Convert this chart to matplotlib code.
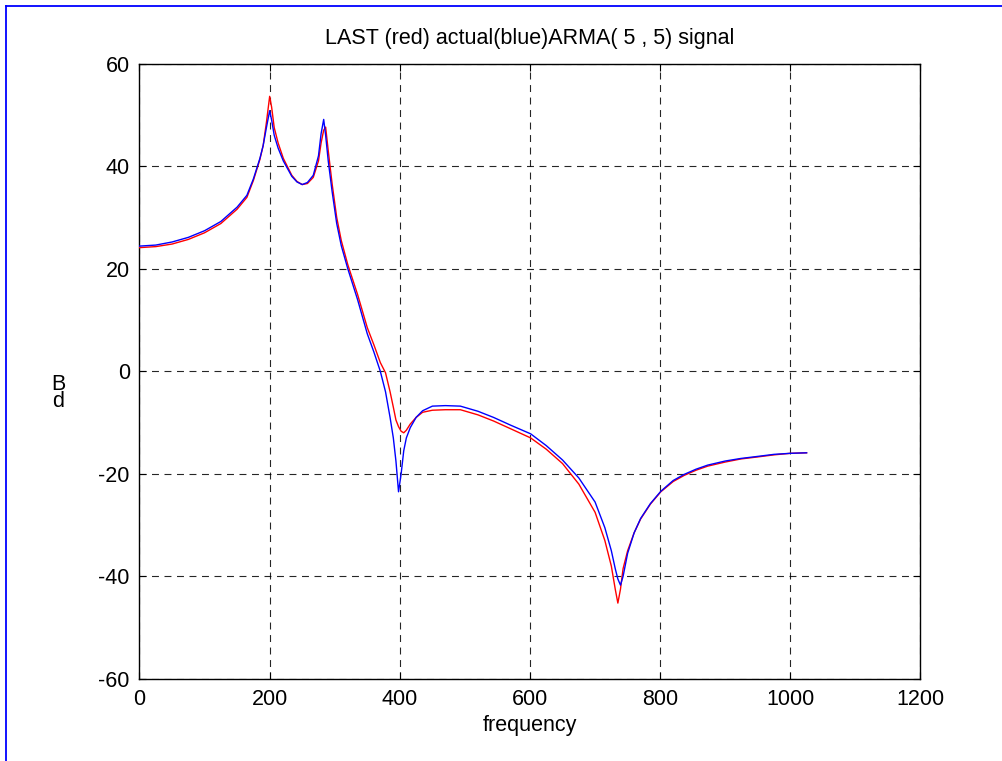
import matplotlib
matplotlib.use("Agg")
import matplotlib.pyplot as plt
from matplotlib.lines import Line2D

plt.rcParams['font.family'] = ['Liberation Sans', 'DejaVu Sans']
plt.rcParams['lines.scale_dashes'] = False
plt.rcParams['axes.unicode_minus'] = False

# ---- data ----
freq = [0, 25, 50, 75, 100, 125, 150, 165, 175, 185, 190, 195, 200, 203, 207, 213,
        221, 234, 242, 250, 258, 267, 275, 279, 283, 286, 290, 296, 303, 310, 320,
        335, 350, 360, 370, 378, 385, 390, 394, 398, 402, 406, 410, 416, 425, 435,
        450, 470, 493, 520, 544, 570, 601, 625, 650, 675, 700, 715, 725, 731, 735,
        739, 743, 750, 760, 770, 785, 801, 820, 837, 855, 873, 900, 924, 950, 975,
        1000, 1025]

blue_db = [24.4, 24.6, 25.2, 26.1, 27.4, 29.2, 32.0, 34.3, 37.5, 41.5, 44.0, 47.5, 50.8,
           49.0, 46.0, 43.5, 41.0, 38.0, 36.9, 36.4, 36.8, 38.2, 42.0, 46.3, 49.1, 46.0,
           41.0, 35.0, 28.8, 24.5, 20.0, 14.0, 7.3, 3.8, 0.0, -4.0, -9.0, -13.0, -17.5,
           -23.5, -20.0, -15.5, -13.0, -11.0, -9.0, -7.7, -6.8, -6.7, -6.8, -7.8, -9.0,
           -10.5, -12.2, -14.5, -17.3, -20.8, -25.5, -30.5, -35.0, -38.5, -40.5, -41.7,
           -40.0, -35.5, -31.5, -28.7, -25.8, -23.4, -21.3, -20.1, -19.1, -18.3, -17.5,
           -17.0, -16.6, -16.2, -16.0, -15.9]

red_db = [24.1, 24.3, 24.8, 25.7, 27.0, 28.8, 31.6, 33.9, 37.2, 41.3, 44.0, 48.5, 53.6,
          51.5, 47.5, 44.5, 41.5, 38.2, 37.0, 36.4, 36.6, 37.8, 41.0, 44.5, 47.0, 47.6,
          43.0, 36.5, 30.0, 25.5, 20.8, 15.0, 8.5, 5.2, 1.7, -0.3, -4.0, -7.0, -9.5,
          -10.8, -11.7, -12.0, -11.5, -10.3, -9.0, -8.0, -7.6, -7.5, -7.5, -8.5, -9.7,
          -11.2, -13.0, -15.2, -18.0, -22.0, -27.5, -33.0, -38.0, -42.5, -45.2, -42.5,
          -38.5, -35.0, -31.5, -28.8, -25.9, -23.5, -21.5, -20.3, -19.3, -18.5, -17.7,
          -17.1, -16.7, -16.3, -16.0, -15.9]

x_ticks = [0, 200, 400, 600, 800, 1000, 1200]
y_ticks = [-60, -40, -20, 0, 20, 40, 60]
title_text = "LAST (red) actual(blue)ARMA( 5 , 5) signal"
xlabel_text = "frequency"
ylabel_text = "B\nd"   # the reference shows "dB" as upright stacked letters

# ---- figure ----
W, H = 1003, 761
FS = 15.5
fig = plt.figure(figsize=(W / 100, H / 100), dpi=100)
ax = fig.add_axes([139.5 / W, 1 - 679 / H, 781 / W, 615.5 / H])

ax.plot(freq, red_db, color='#ff0000', lw=1.0, zorder=3)
ax.plot(freq, blue_db, color='#0000ff', lw=1.0, zorder=4)

ax.set_xlim(0, 1200)
ax.set_ylim(-60, 60)
ax.set_xticks(x_ticks)
ax.set_yticks(y_ticks)
ax.grid(True, color='black', linestyle=(0, (5.0, 4.0)), linewidth=0.8, alpha=0.85)
ax.set_axisbelow(False)
for s in ax.spines.values():
    s.set_linewidth(1.0)
    s.set_color('black')
ax.tick_params(direction='in', length=5, width=0.8, top=True, right=True,
               labelsize=FS, pad=7)

ax.set_title(title_text, fontsize=FS, pad=14)
ax.set_xlabel(xlabel_text, fontsize=FS, labelpad=4)

fig.text(58 / W, 1 - 393 / H, ylabel_text, fontsize=FS, ha='center', va='center',
         multialignment='center', linespacing=0.72)

# blue figure frame (left and top edges visible)
fig.add_artist(Line2D([6.5 / W, 6.5 / W], [0, 1 - 5.5 / H], color='#0000ff', lw=1.3,
                      transform=fig.transFigure))
fig.add_artist(Line2D([6.5 / W, 1.0], [1 - 5.5 / H, 1 - 5.5 / H], color='#0000ff', lw=1.3,
                      transform=fig.transFigure))

fig.savefig("out.png", dpi=100)
